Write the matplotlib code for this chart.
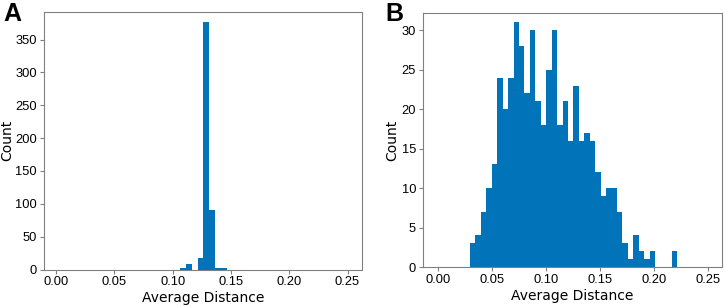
import numpy as np
import matplotlib
matplotlib.use('Agg')
import matplotlib.pyplot as plt

plt.rcParams['font.family'] = ['Liberation Sans', 'DejaVu Sans']

# panel A: narrow distribution
edges_a = np.linspace(0.1063, 0.1463, 9)
counts_a = [2, 8, 0, 18, 377, 90, 3, 2]

# panel B: wide distribution
edges_b = np.linspace(0.0296, 0.2213, 39)
counts_b = [3, 4, 7, 10, 13, 24, 20, 24, 31, 28, 22, 30, 21, 18, 25, 30, 18, 21,
            16, 23, 16, 17, 16, 12, 9, 10, 10, 7, 3, 1, 4, 2, 1, 2, 0, 0, 0, 2]

color = '#0173b8'
spine_col = '#808080'

fig = plt.figure(figsize=(7.26, 3.07), dpi=100)
ax1 = fig.add_axes([44/726, 1 - 269.5/307, 317.5/726, 257.5/307])
ax2 = fig.add_axes([423/726, 1 - 267/307, 299/726, 254/307])

def draw(ax, edges, counts, yticks, xlim, ylab_x):
    ax.hist(edges[:-1], bins=edges, weights=counts, color=color)
    ax.set_xlim(*xlim)
    ax.set_xticks([0.0, 0.05, 0.10, 0.15, 0.20, 0.25])
    ax.set_xticklabels(['0.00', '0.05', '0.10', '0.15', '0.20', '0.25'])
    ax.set_yticks(yticks)
    ax.set_xlabel('Average Distance', fontsize=10, labelpad=2, family='DejaVu Sans')
    ax.set_ylabel('Count', fontsize=10, family='DejaVu Sans')
    ax.yaxis.set_label_coords(ylab_x, 0.5)
    ax.tick_params(labelsize=9.3, color=spine_col, length=3, pad=2)
    for s in ax.spines.values():
        s.set_color(spine_col)

draw(ax1, edges_a, counts_a, [0, 50, 100, 150, 200, 250, 300, 350],
     (-0.0105, 0.262), -0.0945)
ax1.set_ylim(0, 392)
draw(ax2, edges_b, counts_b, [0, 5, 10, 15, 20, 25, 30],
     (-0.0139, 0.263), -0.080)
ax2.set_ylim(0, 32.2)

fig.text(3/726, 1 - 2/307, 'A', fontsize=18, fontweight='bold', va='top', ha='left')
fig.text(385/726, 1 - 2/307, 'B', fontsize=18, fontweight='bold', va='top', ha='left')

fig.savefig('out.png', dpi=100)
